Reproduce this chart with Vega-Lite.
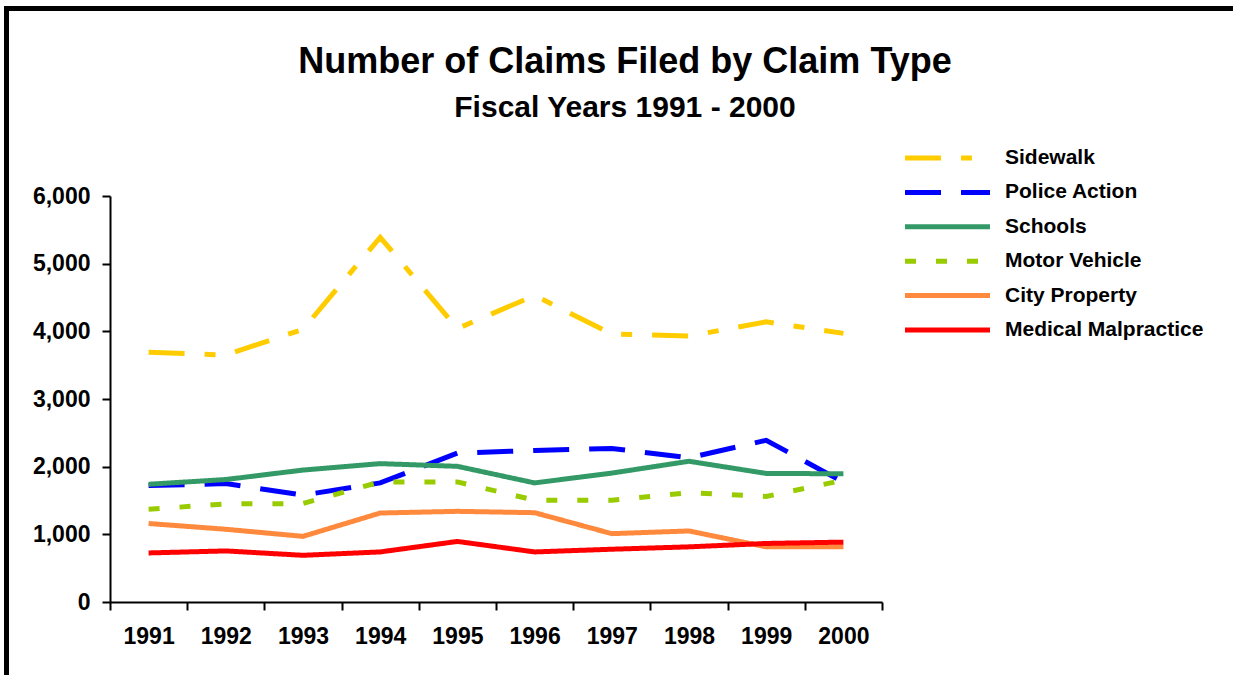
{
  "$schema": "https://vega.github.io/schema/vega-lite/v6.json",
  "autosize": {"type": "none"},
  "width": 772,
  "height": 406,
  "padding": {"left": 110, "top": 196, "right": 351, "bottom": 73},
  "background": "white",
  "title": {
    "text": "Number of Claims Filed by Claim Type",
    "subtitle": "Fiscal Years 1991 - 2000",
    "anchor": "middle",
    "frame": "group",
    "dx": 129,
    "offset": -118,
    "font": "Liberation Sans",
    "fontSize": 36,
    "fontWeight": "bold",
    "color": "black",
    "subtitleFont": "Liberation Sans",
    "subtitleFontSize": 30,
    "subtitleFontWeight": "bold",
    "subtitleColor": "black",
    "subtitlePadding": 12
  },
  "data": {
    "values": [
      {"year": "1991", "series": "Sidewalk", "claims": 3690},
      {"year": "1992", "series": "Sidewalk", "claims": 3650},
      {"year": "1993", "series": "Sidewalk", "claims": 4030},
      {"year": "1994", "series": "Sidewalk", "claims": 5390},
      {"year": "1995", "series": "Sidewalk", "claims": 4040},
      {"year": "1996", "series": "Sidewalk", "claims": 4530},
      {"year": "1997", "series": "Sidewalk", "claims": 3960},
      {"year": "1998", "series": "Sidewalk", "claims": 3930},
      {"year": "1999", "series": "Sidewalk", "claims": 4140},
      {"year": "2000", "series": "Sidewalk", "claims": 3970},
      {"year": "1991", "series": "Police Action", "claims": 1720},
      {"year": "1992", "series": "Police Action", "claims": 1750},
      {"year": "1993", "series": "Police Action", "claims": 1580},
      {"year": "1994", "series": "Police Action", "claims": 1760},
      {"year": "1995", "series": "Police Action", "claims": 2200},
      {"year": "1996", "series": "Police Action", "claims": 2240},
      {"year": "1997", "series": "Police Action", "claims": 2270},
      {"year": "1998", "series": "Police Action", "claims": 2130},
      {"year": "1999", "series": "Police Action", "claims": 2390},
      {"year": "2000", "series": "Police Action", "claims": 1770},
      {"year": "1991", "series": "Schools", "claims": 1740},
      {"year": "1992", "series": "Schools", "claims": 1810},
      {"year": "1993", "series": "Schools", "claims": 1950},
      {"year": "1994", "series": "Schools", "claims": 2045},
      {"year": "1995", "series": "Schools", "claims": 2005},
      {"year": "1996", "series": "Schools", "claims": 1760},
      {"year": "1997", "series": "Schools", "claims": 1905},
      {"year": "1998", "series": "Schools", "claims": 2080},
      {"year": "1999", "series": "Schools", "claims": 1900},
      {"year": "2000", "series": "Schools", "claims": 1895},
      {"year": "1991", "series": "Motor Vehicle", "claims": 1370},
      {"year": "1992", "series": "Motor Vehicle", "claims": 1450},
      {"year": "1993", "series": "Motor Vehicle", "claims": 1455},
      {"year": "1994", "series": "Motor Vehicle", "claims": 1775},
      {"year": "1995", "series": "Motor Vehicle", "claims": 1775},
      {"year": "1996", "series": "Motor Vehicle", "claims": 1505},
      {"year": "1997", "series": "Motor Vehicle", "claims": 1505},
      {"year": "1998", "series": "Motor Vehicle", "claims": 1615},
      {"year": "1999", "series": "Motor Vehicle", "claims": 1560},
      {"year": "2000", "series": "Motor Vehicle", "claims": 1800},
      {"year": "1991", "series": "City Property", "claims": 1160},
      {"year": "1992", "series": "City Property", "claims": 1075},
      {"year": "1993", "series": "City Property", "claims": 970},
      {"year": "1994", "series": "City Property", "claims": 1315},
      {"year": "1995", "series": "City Property", "claims": 1340},
      {"year": "1996", "series": "City Property", "claims": 1320},
      {"year": "1997", "series": "City Property", "claims": 1010},
      {"year": "1998", "series": "City Property", "claims": 1050},
      {"year": "1999", "series": "City Property", "claims": 815},
      {"year": "2000", "series": "City Property", "claims": 815},
      {"year": "1991", "series": "Medical Malpractice", "claims": 725},
      {"year": "1992", "series": "Medical Malpractice", "claims": 755},
      {"year": "1993", "series": "Medical Malpractice", "claims": 690},
      {"year": "1994", "series": "Medical Malpractice", "claims": 740},
      {"year": "1995", "series": "Medical Malpractice", "claims": 895},
      {"year": "1996", "series": "Medical Malpractice", "claims": 740},
      {"year": "1997", "series": "Medical Malpractice", "claims": 780},
      {"year": "1998", "series": "Medical Malpractice", "claims": 815},
      {"year": "1999", "series": "Medical Malpractice", "claims": 865},
      {"year": "2000", "series": "Medical Malpractice", "claims": 885}
    ]
  },
  "encoding": {
    "x": {
      "field": "year",
      "type": "ordinal",
      "scale": {"type": "band", "paddingInner": 0, "paddingOuter": 0},
      "axis": {
        "title": null,
        "labelAngle": 0,
        "tickBand": "extent",
        "labelFont": "Liberation Sans",
        "labelFontSize": 23,
        "labelFontWeight": "bold",
        "labelColor": "black",
        "labelPadding": 15,
        "tickSize": 8,
        "tickWidth": 2,
        "tickColor": "black",
        "domainColor": "black",
        "domainWidth": 2,
        "grid": false
      }
    },
    "y": {
      "field": "claims",
      "type": "quantitative",
      "scale": {"domain": [0, 6000], "nice": false},
      "axis": {
        "title": null,
        "values": [0, 1000, 2000, 3000, 4000, 5000, 6000],
        "format": ",d",
        "labelFont": "Liberation Sans",
        "labelFontSize": 23,
        "labelFontWeight": "bold",
        "labelColor": "black",
        "labelPadding": 12,
        "tickSize": 8,
        "tickWidth": 2,
        "tickColor": "black",
        "domainColor": "black",
        "domainWidth": 2,
        "grid": false
      }
    }
  },
  "layer": [
    {
      "mark": {"type": "line", "strokeWidth": 5, "clip": false},
      "encoding": {
        "color": {
          "field": "series",
          "type": "nominal",
          "scale": {
            "domain": ["Sidewalk", "Police Action", "Schools", "Motor Vehicle", "City Property", "Medical Malpractice"],
            "range": ["#FFCC00", "#0000FF", "#339966", "#99CC00", "#FF8A3D", "#FF0000"]
          },
          "legend": {
            "title": null,
            "orient": "none",
            "legendX": 813.5,
            "legendY": -62,
            "symbolType": "M-2,0H2",
            "symbolSize": 1806,
            "symbolStrokeWidth": 5,
            "labelFont": "Liberation Sans",
            "labelFontSize": 21,
            "labelFontWeight": "bold",
            "labelColor": "black",
            "labelOffset": 33.5,
            "labelLimit": 400,
            "rowPadding": 0.4,
            "padding": 0
          }
        },
        "strokeDash": {
          "field": "series",
          "type": "nominal",
          "scale": {
            "domain": ["Sidewalk", "Police Action", "Schools", "Motor Vehicle", "City Property", "Medical Malpractice"],
            "range": [[36, 20, 11, 20], [36, 20], [1, 0], [11, 20], [1, 0], [1, 0]]
          },
          "legend": {
            "title": null,
            "orient": "none",
            "legendX": 813.5,
            "legendY": -62,
            "symbolType": "M-2,0H2",
            "symbolSize": 1806,
            "symbolStrokeWidth": 5,
            "labelFont": "Liberation Sans",
            "labelFontSize": 21,
            "labelFontWeight": "bold",
            "labelColor": "black",
            "labelOffset": 33.5,
            "labelLimit": 400,
            "rowPadding": 0.4,
            "padding": 0
          }
        }
      }
    },
    {
      "mark": {"type": "point", "opacity": 0},
      "encoding": {
        "shape": {
          "field": "year",
          "type": "nominal",
          "legend": {
            "title": null,
            "orient": "none",
            "legendX": -103.5,
            "legendY": -187.5,
            "padding": 1300,
            "strokeColor": "black",
            "cornerRadius": 0,
            "symbolOpacity": 0,
            "labelOpacity": 0,
            "labelExpr": "''"
          }
        }
      }
    }
  ],
  "config": {
    "view": {"stroke": null},
    "font": "Liberation Sans",
    "legend": {"strokeWidth": 5}
  }
}
